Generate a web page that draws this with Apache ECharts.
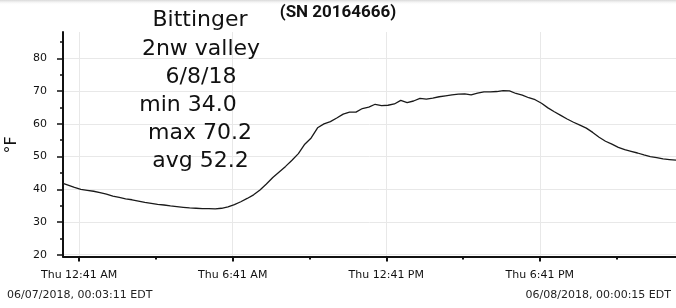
<!DOCTYPE html>
<html>
<head>
<meta charset="utf-8">
<script src="https://cdn.jsdelivr.net/npm/echarts@6/dist/echarts.min.js"></script>
<style>
html,body{margin:0;padding:0;background:#fff;}
#chart{width:676px;height:308px;}
</style>
</head>
<body>
<div id="chart"></div>
<script>
// ---- data ----
var times = ["00:03:11","00:15","00:30","00:45","01:00","01:15","01:30","01:45","02:00","02:15","02:30","02:45",
"03:00","03:15","03:30","03:45","04:00","04:15","04:30","04:45","05:00","05:15","05:30","05:45",
"06:00","06:15","06:30","06:45","07:00","07:15","07:30","07:45","08:00","08:15","08:30","08:45",
"09:00","09:15","09:30","09:45","10:00","10:15","10:30","10:45","11:00","11:15","11:30","11:45",
"12:00","12:15","12:30","12:45","13:00","13:15","13:30","13:45","14:00","14:15","14:30","14:45",
"15:00","15:15","15:30","15:45","16:00","16:15","16:30","16:45","17:00","17:15","17:30","17:45",
"18:00","18:15","18:30","18:45","19:00","19:15","19:30","19:45","20:00","20:15","20:30","20:45",
"21:00","21:15","21:30","21:45","22:00","22:15","22:30","22:45","23:00","23:15","23:30","23:45","24:00:15"];
var temps = [41.8,41.3,40.6,40.0,39.7,39.4,39.0,38.5,37.9,37.5,37.1,36.8,
36.4,36.0,35.7,35.4,35.2,34.9,34.7,34.5,34.3,34.2,34.1,34.1,
34.0,34.2,34.6,35.3,36.2,37.2,38.3,39.8,41.6,43.6,45.3,47.0,
48.9,50.9,53.8,55.7,58.8,60.0,60.7,61.8,63.0,63.6,63.6,64.7,
65.1,66.0,65.6,65.7,66.1,67.2,66.5,67.0,67.8,67.6,67.9,68.3,
68.6,68.9,69.1,69.2,68.9,69.4,69.8,69.8,69.9,70.2,70.1,69.3,
68.8,68.0,67.4,66.3,64.9,63.7,62.6,61.5,60.5,59.6,58.7,57.4,
55.9,54.7,53.8,52.8,52.1,51.6,51.1,50.5,50.0,49.7,49.3,49.1,48.9];
var xTickTimes = ["00:41","06:41","12:41","18:41"];
var xTickLabels = ["Thu 12:41 AM","Thu 6:41 AM","Thu 12:41 PM","Thu 6:41 PM"];
var xMinorTimes = ["03:41","09:41","15:41","21:41"];
var yTicks = [20,30,40,50,60,70,80];
var yMinorTicks = [25,35,45,55,65,75,85];
var titleLines = ["Bittinger","2nw valley","6/8/18","min 34.0","max 70.2","avg 52.2"];
var serialText = "(SN 20164666)";
var unitText = "°F";
var startText = "06/07/2018, 00:03:11 EDT";
var endText = "06/08/2018, 00:00:15 EDT";

function toMin(s){var p=s.split(':').map(Number);return p[0]*60+p[1]+(p[2]||0)/60;}
var xs = times.map(toMin);
var seriesData = xs.map(function(x,i){return [x,temps[i]];});
var tickVals = xTickTimes.map(toMin);
var minorVals = xMinorTimes.map(toMin);

var FONT = 'DejaVu Sans';
var chart = echarts.init(document.getElementById('chart'), null, {renderer:'canvas'});

var titleX = [200,201,201,188,200,200.5];
var titleY = [20,49,77,105,133,161];
var graphics = [
  {type:'rect', left:0, top:0, shape:{width:676,height:5}, silent:true,
   style:{fill:new echarts.graphic.LinearGradient(0,0,0,1,[{offset:0,color:'#d8d8d8'},{offset:1,color:'rgba(255,255,255,0)'}])}},
  {type:'text', x:338, y:13, style:{text:serialText, font:'bold 17px Roboto', fill:'#111', align:'center', verticalAlign:'middle'}},
  {type:'text', x:12, y:145, rotation:Math.PI/2, style:{text:unitText, font:'16px '+FONT, fill:'#111', align:'center', verticalAlign:'middle'}},
  {type:'text', x:7, y:295, style:{text:startText, font:'11px '+FONT, fill:'#222', align:'left', verticalAlign:'middle'}},
  {type:'text', x:671, y:295, style:{text:endText, font:'11px '+FONT, fill:'#222', align:'right', verticalAlign:'middle'}}
];
titleLines.forEach(function(t,i){
  graphics.push({type:'text', x:titleX[i], y:titleY[i], z:10,
    style:{text:t, font:'22px '+FONT, fill:'#111', align:'center', verticalAlign:'middle'}});
});

chart.setOption({
  animation:false,
  backgroundColor:'#fff',
  grid:{left:63, right:0, top:32, bottom:51.5, containLabel:false},
  xAxis:[{
    type:'value', min:toMin(times[0]), max:toMin(times[times.length-1]),
    axisLine:{show:true, onZero:false, lineStyle:{color:'#111', width:2}},
    axisTick:{show:true, customValues:tickVals, length:5, inside:false, lineStyle:{color:'#111', width:2}},
    axisLabel:{show:true, customValues:tickVals, margin:13, color:'#111', fontSize:11, fontFamily:FONT,
      formatter:function(v){var i=tickVals.indexOf(v); return i>=0?xTickLabels[i]:'';}},
    splitLine:{show:true, lineStyle:{color:'#e8e8e8', width:1}}
  },{
    type:'value', position:'bottom', min:toMin(times[0]), max:toMin(times[times.length-1]),
    axisLine:{show:false, onZero:false},
    axisTick:{show:true, customValues:minorVals, length:3, lineStyle:{color:'#111', width:2}},
    axisLabel:{show:false}, splitLine:{show:false}
  }],
  yAxis:[{
    type:'value', min:19.45, max:88.1,
    axisLine:{show:true, onZero:false, lineStyle:{color:'#111', width:2}},
    axisTick:{show:true, customValues:yTicks, length:6, lineStyle:{color:'#111', width:1.5}},
    axisLabel:{show:true, customValues:yTicks, margin:16, color:'#111', fontSize:11, fontFamily:FONT},
    splitLine:{show:true, lineStyle:{color:'#e8e8e8', width:1}}
  },{
    type:'value', position:'left', min:19.45, max:88.1,
    axisLine:{show:false, onZero:false},
    axisTick:{show:true, customValues:yMinorTicks, length:3, lineStyle:{color:'#111', width:1.5}},
    axisLabel:{show:false}, splitLine:{show:false}
  }],
  series:[{
    type:'line', xAxisIndex:0, yAxisIndex:0, data:seriesData, showSymbol:false, symbol:'none',
    lineStyle:{color:'#1a1a1a', width:1.3}, smooth:false
  }],
  graphic:graphics
});
</script>
</body>
</html>
